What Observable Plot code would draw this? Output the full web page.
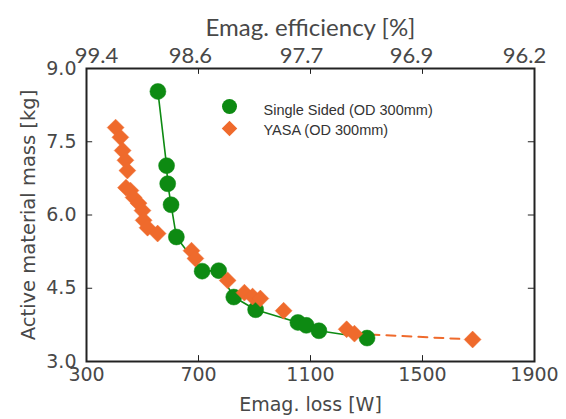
<!DOCTYPE html>
<html>
<head>
<meta charset="utf-8">
<script src="https://cdn.jsdelivr.net/npm/d3@7"></script>
<script src="https://cdn.jsdelivr.net/npm/@observablehq/plot@0.6"></script>
<style>
  html, body { margin: 0; padding: 0; background: #fff; }
  #chart { width: 566px; height: 419px; }
</style>
</head>
<body>
<div id="chart"></div>
<script>
// ---- data ----
const seriesNames = ["Single Sided (OD 300mm)", "YASA (OD 300mm)"];
const ssLoss = [555, 586, 590, 602, 621, 713, 772, 826, 904, 1055, 1085, 1130, 1302];
const ssMass = [8.53, 7.01, 6.64, 6.21, 5.55, 4.85, 4.86, 4.32, 4.06, 3.80, 3.74, 3.63, 3.48];
const yasaLoss = [404, 421, 429, 439, 446, 441, 457, 468, 486, 500, 504, 518, 554, 675, 689, 804, 864, 893, 921, 1004, 1229, 1257, 1679];
const yasaMass = [7.79, 7.59, 7.32, 7.12, 6.91, 6.56, 6.50, 6.36, 6.24, 6.09, 5.89, 5.74, 5.62, 5.27, 5.11, 4.66, 4.41, 4.33, 4.29, 4.04, 3.66, 3.57, 3.45];
const xTicks = [300, 700, 1100, 1500, 1900];
const effLabels = ["99.4", "98.6", "97.7", "96.9", "96.2"];
const effLabelPos = [336, 671, 1068, 1461, 1864]; // where the efficiency labels sit on the loss axis
const yTicks = [3.0, 4.5, 6.0, 7.5, 9.0];
const xTitle = "Emag. loss [W]";
const yTitle = "Active material mass [kg]";
const topTitle = "Emag. efficiency [%]";

// ---- build ----
const ss = ssLoss.map((x, i) => ({x, y: ssMass[i]}));
const yasa = yasaLoss.map((x, i) => ({x, y: yasaMass[i]}));
const effTable = effLabels.map((t, i) => ({t, x: effLabelPos[i]}));
const green = "#0d8a12";
const orange = "#ef6a2c";
const txt = "#484848";
const axisFont = "DejaVu Sans, sans-serif";
const topFont = "Lato, sans-serif";
const innerX = xTicks.slice(1, -1);
const innerY = yTicks.slice(1, -1);

const chart = Plot.plot({
  width: 566,
  height: 419,
  marginLeft: 86,
  marginRight: 32,
  marginTop: 68,
  marginBottom: 58,
  style: {fontFamily: "Liberation Sans, Arial, sans-serif", background: "#fff"},
  x: {domain: [300, 1900]},
  y: {domain: [3, 9]},
  marks: [
    // inward tick marks
    Plot.ruleX(innerX, {x: d => d, y1: 3, y2: 3.12, stroke: "#222"}),
    Plot.ruleX(innerX, {x: d => d, y1: 9, y2: 8.88, stroke: "#222"}),
    Plot.ruleY(innerY, {y: d => d, x1: 300, x2: 322, stroke: "#222"}),
    Plot.ruleY(innerY, {y: d => d, x1: 1900, x2: 1878, stroke: "#222"}),
    // axes
    Plot.axisX(xTicks, {anchor: "bottom", tickSize: 0, tickPadding: 6, fontSize: 19, fontFamily: axisFont, fill: txt, label: null, tickFormat: d => String(d)}),
    Plot.axisY(yTicks, {anchor: "left", tickSize: 0, tickPadding: 10, fontSize: 19, fontFamily: axisFont, fill: txt, label: null, tickFormat: d => d.toFixed(1)}),
    Plot.text(effTable, {x: "x", text: "t", frameAnchor: "top", dy: -21, fontSize: 22, fontFamily: topFont, fill: txt}),
    // titles
    Plot.text([xTitle], {text: d => d, frameAnchor: "bottom", dy: 49, fontSize: 19, fontFamily: axisFont, fill: txt}),
    Plot.text([yTitle], {text: d => d, frameAnchor: "left", textAnchor: "middle", dx: -58, rotate: -90, fontSize: 19.5, fontFamily: axisFont, fill: txt}),
    Plot.text([topTitle], {text: d => d, frameAnchor: "top", dy: -50, fontSize: 24, fontFamily: topFont, fill: txt}),
    // series
    Plot.line(ss, {x: "x", y: "y", stroke: green, strokeWidth: 1.6}),
    Plot.line(yasa.slice(-2), {x: "x", y: "y", stroke: orange, strokeWidth: 2, strokeDasharray: "9,7"}),
    Plot.dot(ss, {x: "x", y: "y", r: 8, fill: green, stroke: green, strokeWidth: 0.5}),
    Plot.dot(yasa, {x: "x", y: "y", r: 7.6, symbol: "diamond2", fill: orange, stroke: orange, strokeWidth: 0.5}),
    // legend
    Plot.dot([seriesNames[0]], {frameAnchor: "top-left", dx: 143, dy: 38, r: 7.5, fill: green}),
    Plot.dot([seriesNames[1]], {frameAnchor: "top-left", dx: 143, dy: 60, r: 7, symbol: "diamond2", fill: orange}),
    Plot.text([seriesNames[0]], {text: d => d, frameAnchor: "top-left", dx: 177, dy: 36, textAnchor: "start", fontSize: 14.5, fill: "#333"}),
    Plot.text([seriesNames[1]], {text: d => d, frameAnchor: "top-left", dx: 177, dy: 56, textAnchor: "start", fontSize: 14.5, fill: "#333"}),
    Plot.frame({stroke: "#222", strokeWidth: 2})
  ]
});
document.getElementById("chart").appendChild(chart);
</script>
</body>
</html>
